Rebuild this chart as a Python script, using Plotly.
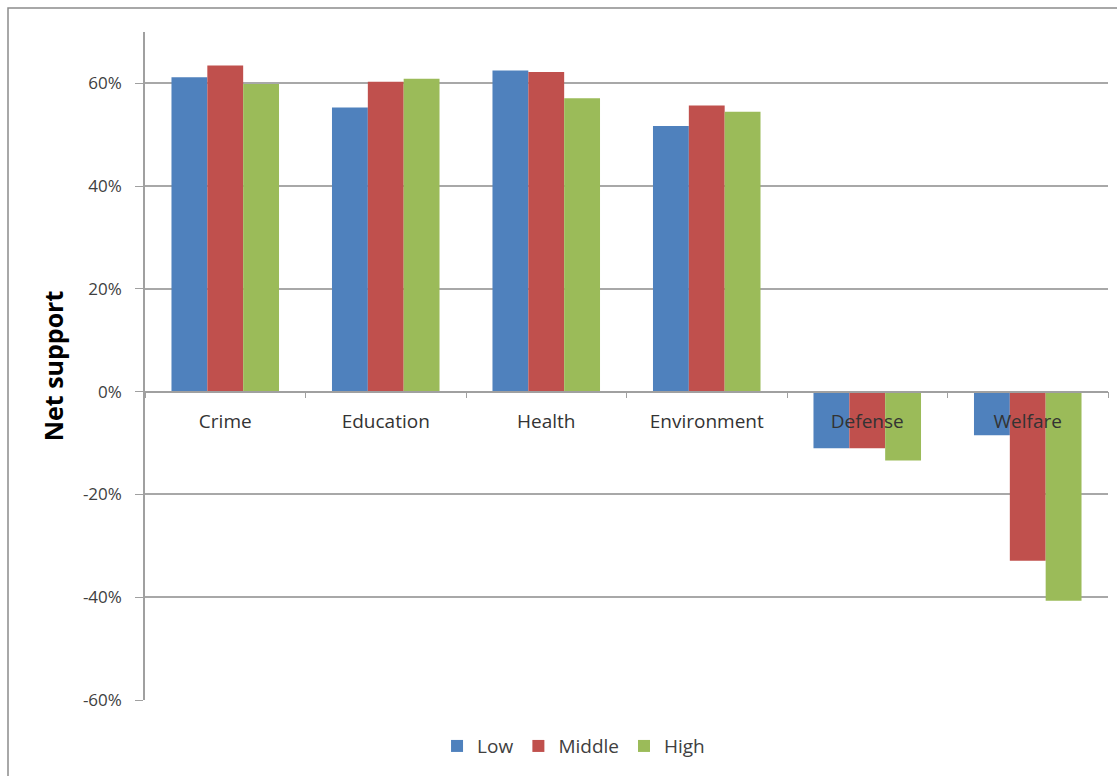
import plotly.graph_objects as go

categories = ["Crime", "Education", "Health", "Environment", "Defense", "Welfare"]
low = [61.2, 55.3, 62.5, 51.7, -11.0, -8.5]
middle = [63.5, 60.3, 62.2, 55.7, -11.0, -32.9]
high = [59.9, 60.9, 57.1, 54.5, -13.4, -40.7]
series_names = ["Low", "Middle", "High"]
colors = ["#4F81BD", "#C0504D", "#9BBB59"]
y_ticks = [-60, -40, -20, 0, 20, 40, 60]
y_min, y_max = -60, 70

FONT = "Open Sans"

fig = go.Figure()
for name, vals, col in zip(series_names, [low, middle, high], colors):
    fig.add_trace(go.Bar(name=name, x=categories, y=vals, marker_color=col,
                         marker_line_width=0))

zero_frac = (0 - y_min) / (y_max - y_min)

fig.update_layout(
    width=1117, height=776,
    margin=dict(l=145, r=9, t=32, b=76),
    paper_bgcolor="white", plot_bgcolor="white",
    barmode="group", bargap=0.33, bargroupgap=0,
    font=dict(family=FONT, color="#404040"),
    showlegend=True,
    legend=dict(orientation="h", x=0.445, xanchor="center", y=-0.069, yanchor="middle",
                font=dict(size=19, family=FONT, color="#404040"),
                itemwidth=30, traceorder="normal"),
    xaxis=dict(
        type="category", anchor="free", position=zero_frac,
        showline=True, linecolor="#A0A0A0", linewidth=1.5,
        ticks="outside", tickson="boundaries", ticklen=6, tickcolor="#A0A0A0",
        tickfont=dict(size=19, family=FONT, color="#333333"),
        ticklabelstandoff=13,
        showgrid=False, zeroline=False,
    ),
    yaxis=dict(
        range=[y_min, y_max], tickvals=y_ticks,
        ticktext=[f"{v}%" for v in y_ticks],
        showline=True, linecolor="#A0A0A0", linewidth=1.5,
        ticks="outside", ticklen=8, tickcolor="#A0A0A0",
        tickfont=dict(size=17, family=FONT, color="#404040"),
        ticklabelstandoff=10,
        showgrid=True, gridcolor="#A8A8A8", gridwidth=1.5,
        zeroline=False,
        title=dict(text="<b>Net support</b>", standoff=12,
                   font=dict(size=25, family=FONT, color="#000000")),
    ),
)

fig.add_shape(type="rect", xref="paper", yref="paper",
              x0=(8 - 145) / 963, x1=1.2, y0=-0.3, y1=(700 - 8) / 668,
              line=dict(color="#8C8C8C", width=1.5), fillcolor="rgba(0,0,0,0)",
              layer="below")

fig.write_html("out.html")
